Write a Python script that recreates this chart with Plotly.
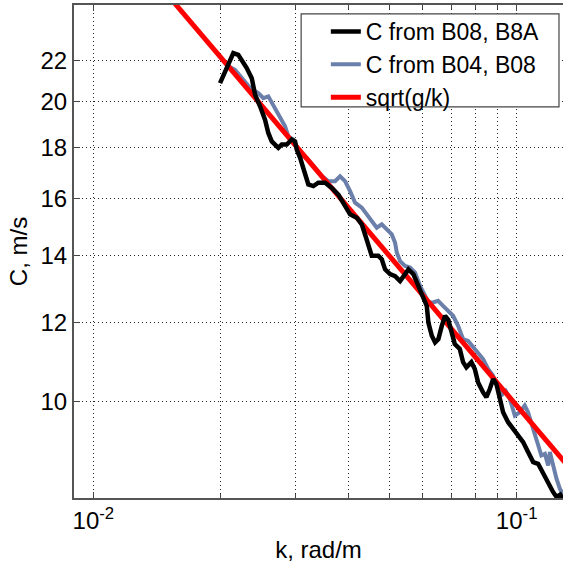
import plotly.graph_objects as go

# Wavenumber k (rad/m) and phase speed C (m/s)
k_b08_b8a = [0.01992, 0.02141, 0.02200, 0.02303, 0.02367, 0.02410, 0.02476, 0.02544, 0.02590, 0.02639,
             0.02735, 0.02786, 0.02863, 0.02942, 0.02996, 0.03023, 0.03078, 0.03163, 0.03220, 0.03309,
             0.03400, 0.03527, 0.03658, 0.03791, 0.03932, 0.04041, 0.04191, 0.04306, 0.04384, 0.04464,
             0.04547, 0.04713, 0.04801, 0.04888, 0.05023, 0.05162, 0.05304, 0.05450, 0.05549, 0.05702,
             0.05859, 0.06021, 0.06133, 0.06187, 0.06303, 0.06417, 0.06533, 0.06655, 0.06776, 0.06898,
             0.07012, 0.07143, 0.07340, 0.07473, 0.07608, 0.07818, 0.07964, 0.08108, 0.08332, 0.08483,
             0.08641, 0.08798, 0.08957, 0.09124, 0.09290, 0.09546, 0.09810, 0.1008, 0.1036, 0.1064,
             0.1094, 0.1124, 0.1155, 0.1187, 0.1219, 0.1242, 0.1267, 0.1302]
c_b08_b8a = [20.87, 22.37, 22.28, 21.61, 21.11, 20.32, 19.78, 19.18, 18.60, 18.24,
             17.97, 18.11, 18.11, 18.32, 18.24, 17.90, 17.57, 16.83, 16.51, 16.45,
             16.58, 16.58, 16.38, 16.13, 15.70, 15.41, 15.29, 15.06, 14.71, 14.32,
             14.00, 14.00, 13.89, 13.57, 13.42, 13.36, 13.21, 13.42, 13.57, 13.42,
             13.06, 12.76, 12.47, 12.00, 11.64, 11.46, 11.55, 11.91, 12.19, 12.07,
             11.73, 11.42, 11.29, 10.95, 10.82, 10.95, 10.78, 10.45, 10.21, 10.10,
             10.29, 10.53, 10.41, 10.06, 9.754, 9.532, 9.386, 9.243, 9.103, 8.896,
             8.693, 8.659, 8.462, 8.302, 8.113, 8.020, 8.063, 7.898]

k_b04_b08 = [0.02080, 0.02161, 0.02261, 0.02345, 0.02453, 0.02521, 0.02590, 0.02662, 0.02761, 0.02837,
             0.02888, 0.02968, 0.03078, 0.03192, 0.03340, 0.03464, 0.03591, 0.03724, 0.03827, 0.03932,
             0.04041, 0.04152, 0.04306, 0.04425, 0.04547, 0.04672, 0.04801, 0.04934, 0.05070, 0.05162,
             0.05210, 0.05304, 0.05450, 0.05601, 0.05755, 0.05914, 0.06077, 0.06187, 0.06347, 0.06522,
             0.06702, 0.06887, 0.07077, 0.07272, 0.07473, 0.07679, 0.07891, 0.08108, 0.08332, 0.08562,
             0.08798, 0.09040, 0.09205, 0.09376, 0.09634, 0.09901, 0.1017, 0.1045, 0.1064, 0.1094,
             0.1124, 0.1144, 0.1166, 0.1187, 0.1198, 0.1219, 0.1242, 0.1265, 0.1302]
c_b04_b08 = [21.71, 21.52, 21.03, 20.63, 20.40, 20.16, 20.24, 19.85, 19.33, 18.89,
             18.45, 18.32, 17.69, 17.56, 17.16, 16.83, 16.64, 16.64, 16.83, 16.64,
             16.26, 15.83, 15.65, 15.41, 15.17, 14.94, 15.06, 14.88, 14.71, 14.43,
             14.11, 13.83, 13.68, 13.63, 13.47, 13.06, 12.76, 12.58, 12.57, 12.62,
             12.47, 12.33, 12.19, 11.91, 11.55, 11.50, 11.33, 11.16, 11.03, 10.78,
             10.61, 10.29, 10.13, 10.29, 10.06, 9.678, 9.754, 9.904, 9.754, 9.386,
             9.031, 8.826, 8.861, 8.625, 8.896, 8.625, 8.364, 8.174, 7.988]

k_theory = [0.015, 0.135]
c_theory = [25.57, 8.524]

x_major_vals = [0.01, 0.1]
x_major_text = ["10<sup>-2</sup>", "10<sup>-1</sup>"]
x_minor_vals = [0.02, 0.03, 0.04, 0.05, 0.06, 0.07, 0.08, 0.09]
y_tickvals = [10, 12, 14, 16, 18, 20, 22]
y_ticktext = ["10", "12", "14", "16", "18", "20", "22"]

FONT = "Liberation Sans, Arial, sans-serif"
GRID = dict(gridcolor="#222222", gridwidth=1, griddash="1px,3px")

fig = go.Figure()
fig.add_trace(go.Scatter(x=k_b04_b08, y=c_b04_b08, mode="lines", name="C from B04, B08",
                         line=dict(color="#6A7FAA", width=4), legendrank=2))
fig.add_trace(go.Scatter(x=k_theory, y=c_theory, mode="lines", name="sqrt(g/k)",
                         line=dict(color="#FF0000", width=5), legendrank=3))
fig.add_trace(go.Scatter(x=k_b08_b8a, y=c_b08_b8a, mode="lines", name="C from B08, B8A",
                         line=dict(color="#000000", width=4.5), legendrank=1))

# legend frame (MATLAB-style box)
fig.add_shape(type="rect", xref="paper", yref="paper",
              x0=0.4645, x1=0.9918, y0=0.7932, y1=0.9818,
              fillcolor="white", line=dict(color="#444444", width=1.2), layer="above")

fig.update_layout(
    width=563, height=570,
    margin=dict(l=74, r=0, t=5, b=72),
    paper_bgcolor="white", plot_bgcolor="white",
    font=dict(family=FONT, size=24, color="black"),
    showlegend=True,
    legend=dict(x=0.515, y=0.990, xanchor="left", yanchor="top",
                bgcolor="rgba(0,0,0,0)", borderwidth=0,
                font=dict(family=FONT, size=23, color="black"),
                tracegroupgap=0),
    xaxis=dict(type="log", range=[-2.04576, -0.8905],
               tickmode="array", tickvals=x_major_vals, ticktext=x_major_text,
               ticks="inside", ticklen=6, tickcolor="#444444",
               showgrid=True, **GRID,
               minor=dict(tickmode="array", tickvals=x_minor_vals, ticks="inside", ticklen=4,
                          tickcolor="#444444", showgrid=True, **GRID),
               showline=True, linecolor="#555555", linewidth=2, mirror="ticks",
               zeroline=False,
               title=dict(text="k, rad/m", font=dict(family=FONT, size=24), standoff=8),
               tickfont=dict(family=FONT, size=24)),
    yaxis=dict(type="log", range=[0.90309, 1.39794],
               tickmode="array", tickvals=y_tickvals, ticktext=y_ticktext,
               ticks="inside", ticklen=6, tickcolor="#444444",
               showgrid=True, **GRID,
               showline=True, linecolor="#555555", linewidth=2, mirror=False,
               zeroline=False,
               title=dict(text="C, m/s", font=dict(family=FONT, size=24), standoff=6),
               tickfont=dict(family=FONT, size=24)),
)

fig.write_html("out.html", config={"displayModeBar": False})
